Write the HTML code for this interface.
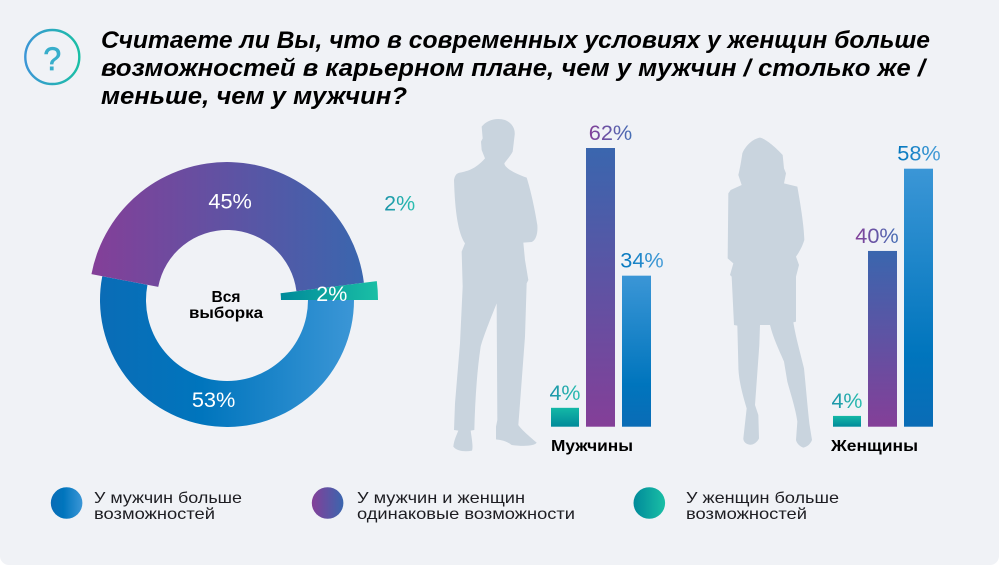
<!DOCTYPE html>
<html lang="ru">
<head>
<meta charset="utf-8">
<title>Возможности в карьере</title>
<style>
html,body{margin:0;padding:0;background:#fff;}
svg{display:block;}
text{font-family:"Liberation Sans","DejaVu Sans",sans-serif;}
</style>
</head>
<body>
<svg id="chart" xmlns="http://www.w3.org/2000/svg" width="999" height="565" viewBox="0 0 999 565">
<defs>
<linearGradient id="gBlueH" x1="0" y1="0" x2="1" y2="0"><stop offset="0" stop-color="#0a6cb6"/><stop offset=".4" stop-color="#0075bd"/><stop offset="1" stop-color="#3b96d6"/></linearGradient>
<linearGradient id="gPurpleH" x1="0" y1="0" x2="1" y2="0"><stop offset="0" stop-color="#843f98"/><stop offset="1" stop-color="#3a66ae"/></linearGradient>
<linearGradient id="gGreenH" x1="0" y1="0" x2="1" y2="0"><stop offset="0" stop-color="#008a9a"/><stop offset="1" stop-color="#1abfa5"/></linearGradient>
<linearGradient id="gBlueV" x1="0" y1="0" x2="0" y2="1"><stop offset="0" stop-color="#3b96d6"/><stop offset=".72" stop-color="#0075bd"/><stop offset="1" stop-color="#0a6cb6"/></linearGradient>
<linearGradient id="gPurpleV" x1="0" y1="0" x2="0" y2="1"><stop offset="0" stop-color="#3a66ae"/><stop offset="1" stop-color="#843f98"/></linearGradient>
<linearGradient id="gGreenV" x1="0" y1="0" x2="0" y2="1"><stop offset="0" stop-color="#14b8a6"/><stop offset="1" stop-color="#008a9a"/></linearGradient>
<linearGradient id="gIcon" x1="0" y1="0" x2="1" y2="0"><stop offset="0" stop-color="#3b96d6"/><stop offset="1" stop-color="#1abfa5"/></linearGradient>
<linearGradient id="gTeal2" x1="0" y1="0" x2="1" y2="0"><stop offset="0" stop-color="#1a93a8"/><stop offset="1" stop-color="#2cc0b0"/></linearGradient>
<linearGradient id="gBlueText" x1="0" y1="0" x2="1" y2="0"><stop offset="0" stop-color="#0075bd"/><stop offset="1" stop-color="#4a9fd9"/></linearGradient>
<linearGradient id="gPurpleText" x1="0" y1="0" x2="1" y2="0"><stop offset="0" stop-color="#843f98"/><stop offset="1" stop-color="#4570b6"/></linearGradient>
</defs>

<rect x="0" y="-12" width="999" height="577" rx="9" fill="#f0f2f6"/>

<g>
<circle cx="52.3" cy="57" r="27" fill="none" stroke="url(#gIcon)" stroke-width="2.4"/>
<text x="52.3" y="70" text-anchor="middle" font-size="32" fill="#38aecb" stroke="#38aecb" stroke-width=".7">?</text>
</g>

<g font-size="24" font-weight="700" font-style="italic" fill="#000">
<text x="101" y="48" textLength="829" lengthAdjust="spacingAndGlyphs">Считаете ли Вы, что в современных условиях у женщин больше</text>
<text x="101" y="76" textLength="824" lengthAdjust="spacingAndGlyphs">возможностей в карьерном плане, чем у мужчин / столько же /</text>
<text x="101" y="104" textLength="306" lengthAdjust="spacingAndGlyphs">меньше, чем у мужчин?</text>
</g>

<g id="donut"></g>
<g font-size="16" font-weight="700" fill="#000" text-anchor="middle">
<text x="226" y="302" textLength="29" lengthAdjust="spacingAndGlyphs">Вся</text>
<text x="226" y="318" textLength="74" lengthAdjust="spacingAndGlyphs">выборка</text>
</g>

<path transform="translate(440,110) scale(.33333)" fill="#c9d4de" d="M125 50C140 30 170 22 195 30C215 38 226 55 224 75C222 90 220 110 218 125C210 140 200 150 193 160C195 175 225 190 260 203C272 240 285 300 292 345C294 370 288 390 275 396L250 398L255 450L265 510L260 520L255 680L240 880L235 945C245 960 275 985 290 998C285 1008 250 1010 215 1005C195 990 180 990 168 988L168 950L172 930L170 580C150 630 130 680 122 710C110 790 105 880 103 960L92 962C95 985 100 1010 96 1022C75 1026 50 1024 40 1010C42 990 50 975 55 962L42 960L45 880L60 700L68 530L65 425L75 400C55 370 45 310 42 210C45 195 50 190 60 188C85 182 105 178 135 145L125 120L123 95L128 85Z"/>

<path transform="translate(710,125) scale(.33333)" fill="#c9d4de" d="M150 38C165 40 195 65 218 90L222 130L228 145L222 175L262 185C270 230 282 300 283 345C275 370 265 385 258 395L267 420L258 455L258 590L250 592C258 640 270 680 282 730C288 790 292 840 298 895L306 945C300 960 290 965 280 968C270 965 260 955 258 945L262 890C258 855 240 800 232 770L222 710C205 670 190 640 180 600L150 600L148 660L135 840L145 870L147 940C140 955 125 962 115 958C105 955 100 948 100 940L110 850C95 800 85 760 85 720L82 602L72 600L65 455L60 450L70 415L53 400L55 205L62 195L95 180L85 150C90 130 95 100 97 85C110 55 135 40 150 38Z"/>

<g id="bars"></g>

<text x="551" y="451" font-size="16" font-weight="700" fill="#000" textLength="82" lengthAdjust="spacingAndGlyphs">Мужчины</text>
<text x="831" y="451" font-size="16" font-weight="700" fill="#000" textLength="87" lengthAdjust="spacingAndGlyphs">Женщины</text>

<g font-size="16" fill="#1d1d22">
<g>
<circle cx="66.6" cy="503" r="15.8" fill="url(#gBlueH)"/>
<text x="94" y="503" textLength="148" lengthAdjust="spacingAndGlyphs">У мужчин больше</text>
<text x="94" y="519" textLength="121" lengthAdjust="spacingAndGlyphs">возможностей</text>
</g>
<g>
<circle cx="327.6" cy="503" r="15.8" fill="url(#gPurpleH)"/>
<text x="357" y="503" textLength="168" lengthAdjust="spacingAndGlyphs">У мужчин и женщин</text>
<text x="357" y="519" textLength="218" lengthAdjust="spacingAndGlyphs">одинаковые возможности</text>
</g>
<g>
<circle cx="649.3" cy="503" r="15.8" fill="url(#gGreenH)"/>
<text x="686" y="503" textLength="153" lengthAdjust="spacingAndGlyphs">У женщин больше</text>
<text x="686" y="519" textLength="121" lengthAdjust="spacingAndGlyphs">возможностей</text>
</g>
</g>
</svg>

<script>
// Donut data, drawn counter-clockwise from the east axis
const donutCategories = ['women-more', 'equal', 'men-more'];
const donutValues = [2, 45, 53];
const donutLabels = ['2%', '45%', '53%'];

// Bar data (heights; printed values kept separately)
const barCategories = ['women-more', 'equal', 'men-more'];
const menValues = [4.2, 62, 33.6];
const womenValues = [2.4, 39.1, 57.4];
const menLabels = ['4%', '62%', '34%'];
const womenLabels = ['4%', '40%', '58%'];

const SVGNS = 'http://www.w3.org/2000/svg';
const cx = 227, cy = 300;
const ringOuter = [151, 138, 127];
const ringInner = [54, 70, 81];
const ringFill = ['url(#gGreenH)', 'url(#gPurpleH)', 'url(#gBlueH)'];
const barFill = ['url(#gGreenV)', 'url(#gPurpleV)', 'url(#gBlueV)'];
const labelFill = ['url(#gTeal2)', 'url(#gPurpleText)', 'url(#gBlueText)'];

function angleScale(v, total) { return v / total * 360; }
function polar(r, deg) {
  const t = deg * Math.PI / 180;
  return [cx + r * Math.cos(t), cy - r * Math.sin(t)];
}
function sectorPath(a0, a1, ro, ri) {
  const large = (a1 - a0) > 180 ? 1 : 0;
  const p0 = polar(ro, a0), p1 = polar(ro, a1), p2 = polar(ri, a1), p3 = polar(ri, a0);
  return 'M' + p0[0] + ' ' + p0[1] + 'A' + ro + ' ' + ro + ' 0 ' + large + ' 0 ' + p1[0] + ' ' + p1[1] +
         'L' + p2[0] + ' ' + p2[1] + 'A' + ri + ' ' + ri + ' 0 ' + large + ' 1 ' + p3[0] + ' ' + p3[1] + 'Z';
}
function makeText(parent, x, y, str, fill, size) {
  const t = document.createElementNS(SVGNS, 'text');
  t.setAttribute('x', x);
  t.setAttribute('y', y);
  t.setAttribute('text-anchor', 'middle');
  t.setAttribute('font-size', size);
  t.setAttribute('fill', fill);
  t.setAttribute('textLength', str.length > 2 ? 43.5 : 31);
  t.setAttribute('lengthAdjust', 'spacingAndGlyphs');
  t.textContent = str;
  parent.appendChild(t);
  return t;
}

const donut = document.getElementById('donut');
const donutTotal = donutValues.reduce(function (a, b) { return a + b; }, 0);
const sliceStarts = [];
let running = 0;
donutValues.forEach(function (v) { sliceStarts.push(running); running += angleScale(v, donutTotal); });

// paint order: blue, purple, teal
[2, 1, 0].forEach(function (i) {
  const a0 = sliceStarts[i];
  const a1 = a0 + angleScale(donutValues[i], donutTotal);
  const p = document.createElementNS(SVGNS, 'path');
  p.setAttribute('d', sectorPath(a0, a1, ringOuter[i], ringInner[i]));
  p.setAttribute('fill', ringFill[i]);
  
  
  donut.appendChild(p);
});
const labelRadius = [105, 99, 100];
const labelShift = [0, 0, -4];
[2, 1, 0].forEach(function (i) {
  const mid = sliceStarts[i] + angleScale(donutValues[i], donutTotal) / 2;
  const pos = polar(labelRadius[i], mid);
  const t = makeText(donut, pos[0] + labelShift[i], pos[1] + 7.5, donutLabels[i], '#ffffff', 21);
  
  
});
const outerMid = sliceStarts[0] + angleScale(donutValues[0], donutTotal) / 2;
const outerPos = polar(151, outerMid);
const outerLabel = makeText(donut, outerPos[0] + 22, outerPos[1] - 80, donutLabels[0], 'url(#gTeal2)', 21);



const barsRoot = document.getElementById('bars');
const baseline = 426.7;
function yScale(v) { return v * 4.495; }
function drawGroup(groupName, values, labels, xs, widths, shifts) {
  values.forEach(function (v, i) {
    const h = yScale(v);
    const r = document.createElementNS(SVGNS, 'rect');
    r.setAttribute('x', xs[i]);
    r.setAttribute('y', baseline - h);
    r.setAttribute('width', widths[i]);
    r.setAttribute('height', h);
    r.setAttribute('fill', barFill[i]);
    
    
    barsRoot.appendChild(r);
    const t = makeText(barsRoot, xs[i] + widths[i] / 2 + shifts[i], baseline - h - 8, labels[i], labelFill[i], 21);
    
    
  });
}
drawGroup('men', menValues, menLabels, [551, 586, 622], [28, 29, 29], [0, 10, 5.5]);
drawGroup('women', womenValues, womenLabels, [833, 868, 904], [28, 29, 29], [0, -5.5, 0.5]);
</script>
</body>
</html>
